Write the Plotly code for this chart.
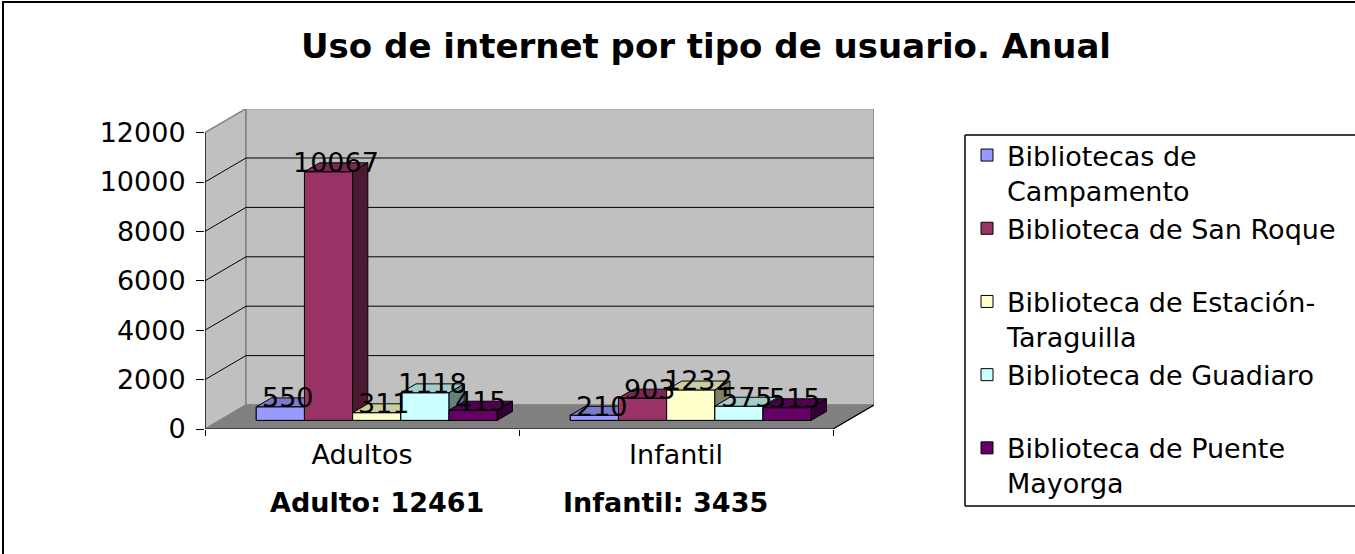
import plotly.graph_objects as go

# ---------------- data ----------------
categories = ["Adultos", "Infantil"]
series_names = [
    "Bibliotecas de Campamento",
    "Biblioteca de San Roque",
    "Biblioteca de Estación-Taraguilla",
    "Biblioteca de Guadiaro",
    "Biblioteca de Puente Mayorga",
]
legend_labels = [
    "Bibliotecas de<br>Campamento",
    "Biblioteca de San Roque<br>\u00a0",
    "Biblioteca de Estación-<br>Taraguilla",
    "Biblioteca de Guadiaro<br>\u00a0",
    "Biblioteca de Puente<br>Mayorga",
]
campamento = [550, 210]
san_roque = [10067, 903]
estacion_taraguilla = [311, 1232]
guadiaro = [1118, 575]
puente_mayorga = [415, 515]
series_values = [campamento, san_roque, estacion_taraguilla, guadiaro, puente_mayorga]
colors = ["#9999FF", "#993366", "#FFFFCC", "#CCFFFF", "#660066"]
y_ticks = [0, 2000, 4000, 6000, 8000, 10000, 12000]
title_text = "Uso de internet por tipo de usuario. Anual"
total_labels = ["Adulto", "Infantil"]

# ---------------- geometry (in window pixels) ----------------
W, H = 1355, 554
L, T = 205, 109
PLOT_RIGHT, PLOT_BOTTOM = 874, 429
PW, PH = PLOT_RIGHT - L, PLOT_BOTTOM - T
CAT_PX = 314.0
PX_PER_UNIT = 296.4 / 12000
X_MIN = -0.5
X_MAX = X_MIN + PW / CAT_PX
Y_TOP = PH / PX_PER_UNIT
DX = 41 / CAT_PX
DY = 24 / PX_PER_UNIT
F_DEPTH, B_DEPTH = 0.36, 0.73
BAR_W = 0.1535
GAP = (1 - len(series_values) * BAR_W) / 2
FONT = "DejaVu Sans"


def px_x(px):
    return (px - L) / PW


def px_y(py):
    return (PLOT_BOTTOM - py) / PH


def shade(hex_color, k):
    h = hex_color.lstrip("#")
    r, g, b = (int(h[i:i + 2], 16) for i in (0, 2, 4))
    return "rgb(%d,%d,%d)" % (r * k, g * k, b * k)


def path(points, close=True):
    return "M " + " L ".join("%f,%f" % p for p in points) + (" Z" if close else "")


def paper_line(xa, ya, xb, yb, width):
    return dict(type="line", xref="paper", yref="paper",
                x0=px_x(xa), y0=px_y(ya), x1=px_x(xb), y1=px_y(yb),
                line=dict(color="black", width=width))


fig = go.Figure()

# real bars (front faces)
for s, (name, vals, col, lab) in enumerate(zip(series_names, series_values, colors, legend_labels)):
    xs = [c - 0.5 + GAP + s * BAR_W + BAR_W / 2 + F_DEPTH * DX for c in range(len(categories))]
    fig.add_trace(go.Bar(
        x=xs, y=vals, base=F_DEPTH * DY, width=BAR_W, name=lab,
        marker=dict(color=col, line=dict(color="black", width=1)),
        hovertext=[f"{name} – {cat}: {v}" for cat, v in zip(categories, vals)],
        hoverinfo="text",
    ))

# 3D faces painted left to right
annotations = []
for c in range(len(categories)):
    for s, (vals, col) in enumerate(zip(series_values, colors)):
        v = vals[c]
        xl = c - 0.5 + GAP + s * BAR_W
        xr = xl + BAR_W
        f0x, f0y = F_DEPTH * DX, F_DEPTH * DY
        b0x, b0y = B_DEPTH * DX, B_DEPTH * DY
        faces = [
            ([(xl + f0x, f0y), (xr + f0x, f0y), (xr + f0x, v + f0y), (xl + f0x, v + f0y)], col),
            ([(xl + f0x, v + f0y), (xr + f0x, v + f0y), (xr + b0x, v + b0y), (xl + b0x, v + b0y)], shade(col, 0.8)),
            ([(xr + f0x, f0y), (xr + b0x, b0y), (xr + b0x, v + b0y), (xr + f0x, v + f0y)], shade(col, 0.5)),
        ]
        for pts, fc in faces:
            fig.add_trace(go.Scatter(
                x=[p[0] for p in pts] + [pts[0][0]], y=[p[1] for p in pts] + [pts[0][1]],
                mode="lines", fill="toself", fillcolor=fc,
                line=dict(color="black", width=1), showlegend=False, hoverinfo="skip",
            ))
        annotations.append(dict(
            x=xl + BAR_W / 2 + (F_DEPTH + B_DEPTH) / 2 * DX, y=v + f0y, xref="x", yref="y",
            text=str(v), showarrow=False, yanchor="middle", xanchor="center", yshift=9,
            font=dict(family=FONT, size=27, color="black"),
        ))

# walls, floor and gridlines
shapes = []
x0, x1 = X_MIN, X_MIN + len(categories)
ymax = y_ticks[-1]
shapes.append(dict(type="path", xref="x", yref="y", layer="below",
                   path=path([(x0, 0), (x0 + DX, DY), (x0 + DX, ymax + DY), (x0, ymax)]),
                   fillcolor="#C0C0C0", line=dict(color="#808080", width=1.5)))
shapes.append(dict(type="path", xref="x", yref="y", layer="below",
                   path=path([(x0 + DX, DY), (x1 + DX, DY), (x1 + DX, ymax + DY), (x0 + DX, ymax + DY)]),
                   fillcolor="#C0C0C0", line=dict(color="#808080", width=1.5)))
shapes.append(dict(type="path", xref="x", yref="y", layer="below",
                   path=path([(x0, 0), (x1, 0), (x1 + DX, DY), (x0 + DX, DY)]),
                   fillcolor="#808080", line=dict(color="#808080", width=1)))
for v in y_ticks[1:-1]:
    shapes.append(dict(type="line", xref="x", yref="y", layer="below",
                       x0=x0 + DX, x1=x1 + DX, y0=v + DY, y1=v + DY, line=dict(color="black", width=1)))
    shapes.append(dict(type="line", xref="x", yref="y", layer="below",
                       x0=x0, x1=x0 + DX, y0=v, y1=v + DY, line=dict(color="black", width=1)))
shapes.append(dict(type="line", xref="x", yref="y", layer="below",
                   x0=x0, x1=x0, y0=0, y1=ymax, line=dict(color="black", width=1.2)))
shapes.append(dict(type="line", xref="x", yref="y", layer="below",
                   x0=x0, x1=x1, y0=0, y1=0, line=dict(color="black", width=1.2)))
shapes.append(dict(type="line", xref="x", yref="y", layer="below",
                   x0=x1, x1=x1 + DX, y0=0, y1=DY, line=dict(color="black", width=1.2)))
# chart frame (top + left) and legend box (top, left, bottom; it runs past the window)
shapes.append(paper_line(2, 2, W + 40, 2, 2))
shapes.append(paper_line(3, 2, 3, H + 40, 2))
shapes.append(paper_line(965, 135, W + 40, 135, 1.5))
shapes.append(paper_line(965, 135, 965, 506, 1.5))
shapes.append(paper_line(965, 506, W + 40, 506, 1.5))

# totals under the axis
totals = [sum(vals[c] for vals in series_values) for c in range(len(categories))]
for name, tot, cx in zip(total_labels, totals, [376.5, 665]):
    annotations.append(dict(
        x=px_x(cx), y=px_y(502), xref="paper", yref="paper", text=f"<b>{name}: {tot}</b>",
        showarrow=False, xanchor="center", yanchor="middle",
        font=dict(family=FONT, size=27, color="black"),
    ))

fig.update_layout(
    width=W, height=H,
    margin=dict(l=L, r=W - PLOT_RIGHT, t=T, b=H - PLOT_BOTTOM, autoexpand=False),
    paper_bgcolor="white", plot_bgcolor="white",
    barmode="overlay", showlegend=True,
    title=dict(text=f"<b>{title_text}</b>", x=706 / W, xanchor="center",
               y=1 - 46 / H, yanchor="middle",
               font=dict(family=FONT, size=34, color="black")),
    font=dict(family=FONT, size=27, color="black"),
    xaxis=dict(range=[X_MIN, X_MAX], tickvals=list(range(len(categories))), ticktext=categories,
               ticks="", showline=False, showgrid=False, zeroline=False, ticklabelstandoff=7,
               tickfont=dict(family=FONT, size=27, color="black"),
               minor=dict(tickvals=[x0 + i for i in range(len(categories) + 1)], ticks="outside",
                          ticklen=6, tickwidth=1, tickcolor="black", showgrid=False)),
    yaxis=dict(range=[0, Y_TOP], tickvals=y_ticks, ticktext=[str(v) for v in y_ticks],
               ticks="outside", ticklen=8, tickwidth=1,
               tickcolor="black", showline=False, showgrid=False, zeroline=False,
               ticklabelstandoff=5, tickfont=dict(family=FONT, size=27, color="black")),
    legend=dict(x=px_x(967), y=px_y(131), xanchor="left", yanchor="top", valign="top",
                bgcolor="rgba(0,0,0,0)", bordercolor="rgba(0,0,0,0)", borderwidth=0, maxheight=700,
                font=dict(family=FONT, size=27, color="black"), tracegroupgap=0),
    shapes=shapes, annotations=annotations,
)

fig.write_html("out.html", config={"displayModeBar": False},
               post_script="document.body.style.margin='0px'; document.body.style.overflow='hidden';")
